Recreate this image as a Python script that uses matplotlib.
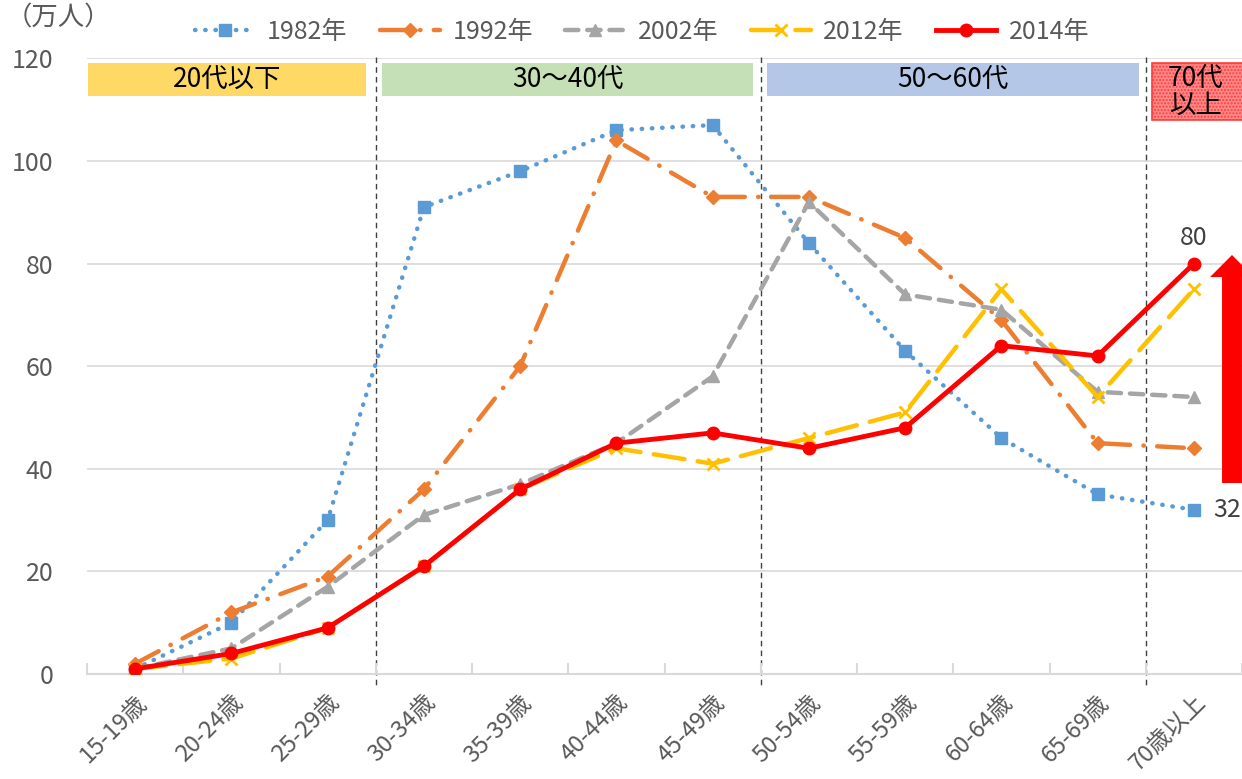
import matplotlib
matplotlib.use("Agg")
import matplotlib.pyplot as plt
from matplotlib.patches import Rectangle, Polygon
import numpy as np

plt.rcParams['font.family'] = ['Noto Sans CJK JP', 'DejaVu Sans']

categories = ["15-19歳", "20-24歳", "25-29歳", "30-34歳", "35-39歳", "40-44歳",
              "45-49歳", "50-54歳", "55-59歳", "60-64歳", "65-69歳", "70歳以上"]
y1982 = [1, 10, 30, 91, 98, 106, 107, 84, 63, 46, 35, 32]
y1992 = [2, 12, 19, 36, 60, 104, 93, 93, 85, 69, 45, 44]
y2002 = [1, 5, 17, 31, 37, 45, 58, 92, 74, 71, 55, 54]
y2012 = [1, 3, 9, 21, 36, 44, 41, 46, 51, 75, 54, 75]
y2014 = [1, 4, 9, 21, 36, 45, 47, 44, 48, 64, 62, 80]
bands = ["20代以下", "30〜40代", "50〜60代", "70代\n以上"]
yticks = [0, 20, 40, 60, 80, 100, 120]

W, H = 1242, 779
fig = plt.figure(figsize=(W / 100, H / 100), dpi=100)
ax_left, ax_right = 87, 1242
ax_top, ax_bot = 58.4, 674
ax = fig.add_axes([ax_left / W, 1 - ax_bot / H, (ax_right - ax_left) / W, (ax_bot - ax_top) / H])

step = 96.7
x = np.arange(len(categories))
xmax = -0.5 + (ax_right - ax_left) / step
ax.set_xlim(-0.5, xmax)
ax.set_ylim(0, 120)

# grid
for t in yticks[1:]:
    ax.axhline(t, color='#D9D9D9', lw=1.2, zorder=0)

def px2x(px):
    return (px - 135) / step
def py2y(py):
    return (674 - py) / ((674 - 58.4) / 120)

# band boxes
band_specs = [
    (88, 367, 63, 96, '#FFD966', None),
    (383, 756, 63, 96, '#C5E0B4', None),
    (770, 1144, 63, 96, '#B4C7E7', None),
    (1157, 1260, 63, 120, '#FF8A8A', '#FF3B3B'),
]
for (x0, x1, y0, y1, fc, ec), lab in zip(band_specs, bands):
    r = Rectangle((px2x(x0), py2y(y1)), px2x(x1) - px2x(x0), py2y(y0) - py2y(y1),
                  facecolor=fc, edgecolor=ec if ec else 'none', lw=1.2 if ec else 0,
                  hatch='.....' if ec else None, zorder=1)
    ax.add_patch(r)
    cx = (px2x(x0) + px2x(x1)) / 2
    if ec:
        cx = px2x(1200)
    ax.text(cx, (py2y(y0) + py2y(y1)) / 2, lab, ha='center', va='center',
            fontsize=19, color='black', zorder=2, linespacing=1.0)

# vertical dashed separators
for xv in [2.5, 6.5, 10.5]:
    ax.plot([xv, xv], [120.3, -2.1], color='#404040', lw=1.0, ls=(0, (4, 3)),
            clip_on=False, zorder=1)

lw = 3.2
l1, = ax.plot(x, y1982, color='#5B9BD5', lw=lw, ls=(0, (0.1, 2.2)), dash_capstyle='round',
              marker='s', ms=9, label='1982年', zorder=3)
l2, = ax.plot(x, y1992, color='#ED7D31', lw=lw, ls=(0, (6, 3, 0.1, 3)), dash_capstyle='round',
              marker='D', ms=7, label='1992年', zorder=4)
l3, = ax.plot(x, y2002, color='#A5A5A5', lw=lw, ls=(0, (3, 2)), dash_capstyle='round',
              marker='^', ms=9, label='2002年', zorder=5)
l4, = ax.plot(x, y2012, color='#FFC000', lw=lw, ls=(0, (7, 3)), dash_capstyle='round',
              marker='x', ms=9, mew=2, label='2012年', zorder=6)
l5, = ax.plot(x, y2014, color='#FF0000', lw=3.5, ls='-',
              marker='o', ms=9, label='2014年', zorder=7)

# annotations
ax.text(11, y2014[-1] + 2.5, str(y2014[-1]), ha='center', va='bottom', fontsize=18, color='#404040')
ax.text(11.2, y1982[-1], str(y1982[-1]), ha='left', va='center', fontsize=18, color='#404040')

# big red arrow (clipped at right edge)
arrow = Polygon([[px2x(1227), py2y(483)], [px2x(1227), py2y(277)], [px2x(1215), py2y(277)],
                 [px2x(1237), py2y(255)], [px2x(1259), py2y(277)], [px2x(1247), py2y(277)],
                 [px2x(1247), py2y(483)]], closed=True, facecolor='#FF0000', edgecolor='none',
                zorder=8)
ax.add_patch(arrow)

# axes styling
for s in ['top', 'right', 'left']:
    ax.spines[s].set_visible(False)
ax.spines['bottom'].set_color('#D9D9D9')
ax.spines['bottom'].set_linewidth(1.5)
ax.set_yticks(yticks)
ax.set_yticklabels([str(t) for t in yticks], fontsize=18, color='#595959')
ax.tick_params(axis='y', length=0, pad=24)
ax.set_xticks(x)
ax.set_xticklabels(categories, rotation=45, ha='right', rotation_mode='anchor',
                   fontsize=17, color='#595959')
ax.tick_params(axis='x', length=0, pad=12)
ax.set_xticks(np.arange(-0.5, 12, 1), minor=True)
ax.tick_params(axis='x', which='minor', direction='in', length=8, color='#D9D9D9', width=1.5)

fig.text(6 / W, 1 - 18 / H, '（万人）', ha='left', va='center', fontsize=19, color='#595959')

fig.legend(handles=[l1, l2, l3, l4, l5], loc='center', bbox_to_anchor=(642 / W, 1 - 32 / H),
           ncol=5, frameon=False, fontsize=18, labelcolor='#595959', handlelength=2.4,
           columnspacing=1.3, handletextpad=0.5)

fig.savefig('out.png', dpi=100)
